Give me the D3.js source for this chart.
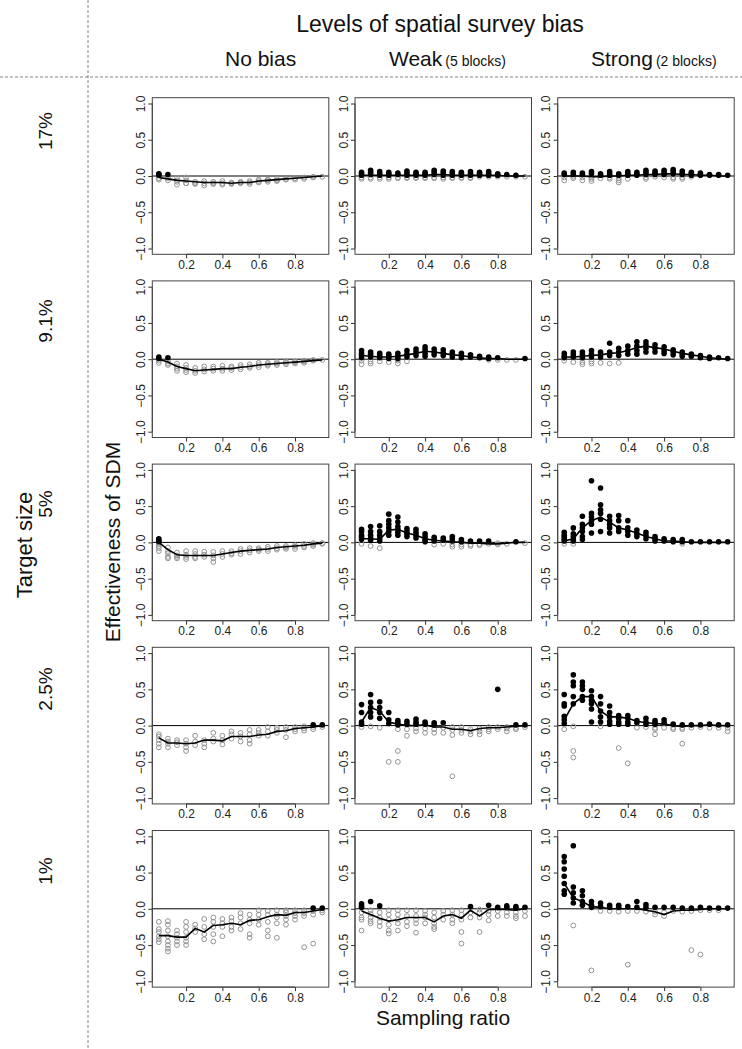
<!DOCTYPE html>
<html><head><meta charset="utf-8">
<script src="https://cdn.jsdelivr.net/npm/d3@7/dist/d3.min.js"></script>
<style>body{margin:0;background:#fff}svg{display:block}text{font-family:"Liberation Sans",Arial,sans-serif}</style>
</head><body><div id="chart"></div>
<script>
const xVals = [0.05,0.10,0.15,0.20,0.25,0.30,0.35,0.40,0.45,0.50,0.55,0.60,0.65,0.70,0.75,0.80,0.85,0.90,0.95];
const xTicks = [0.2,0.4,0.6,0.8];
const yTicks = [-1.0,-0.5,0.0,0.5,1.0];
const rowLabels = ["17%","9.1%","5%","2.5%","1%"];
const colLabels = ["No bias","Weak","Strong"];
const colNotes = ["","(5 blocks)","(2 blocks)"];
const title = "Levels of spatial survey bias";
const rowTitle = "Target size";
const yTitle = "Effectiveness of SDM";
const xTitle = "Sampling ratio";

// ---- Row 1: 17% ----
const mean_r1_c1 = [-0.02,-0.04,-0.06,-0.07,-0.08,-0.09,-0.09,-0.09,-0.10,-0.09,-0.09,-0.07,-0.06,-0.05,-0.04,-0.03,-0.02,-0.01,0.00];
const pts_r1_c1 = [[0.03,0.01,0.02,-0.03,-0.05],[0.02,-0.03,-0.06],[-0.03,-0.06,-0.08,-0.12],[-0.02,-0.06,-0.10,-0.10],[-0.08,-0.10,-0.11],[-0.07,-0.10,-0.13],[-0.08,-0.10,-0.11],[-0.07,-0.10,-0.12],[-0.09,-0.10,-0.11],[-0.08,-0.09,-0.10],[-0.07,-0.09,-0.11],[-0.05,-0.07,-0.09],[-0.05,-0.06,-0.08],[-0.04,-0.06,-0.07],[-0.04,-0.05],[-0.03,-0.05],[-0.02,-0.04],[-0.01,-0.02],[-0.01]];
const mean_r1_c2 = [0.01,0.01,0.01,0.01,0.01,0.01,0.01,0.01,0.02,0.02,0.01,0.01,0.01,0.01,0.01,0.01,0.00,0.00,0.00];
const pts_r1_c2 = [[0.05,0.03,0.01,-0.02,-0.04],[0.08,0.05,0.02,-0.02,-0.04],[0.06,0.03,0.01,-0.02,-0.04],[0.05,0.03,0.01,-0.02,-0.04],[0.04,0.02,-0.02,-0.03],[0.07,0.04,0.01,-0.02,-0.03],[0.05,0.03,0.01,-0.02,-0.03],[0.05,0.03,0.01,-0.02,-0.03],[0.08,0.05,0.02,-0.02,-0.03],[0.07,0.04,0.01,-0.02,-0.04],[0.06,0.03,0.01,-0.02,-0.03],[0.05,0.03,0.01,-0.02,-0.03],[0.06,0.03,0.01,-0.02,-0.03],[0.05,0.03,0.01,-0.01],[0.06,0.03,0.01,-0.01],[0.03,0.01,-0.01],[0.02,-0.01],[0.01,-0.01],[-0.01]];
const mean_r1_c3 = [0.00,0.00,0.00,-0.01,-0.01,0.00,0.00,0.01,0.01,0.02,0.02,0.03,0.03,0.02,0.02,0.01,0.01,0.00,0.00];
const pts_r1_c3 = [[0.04,0.02,-0.02,-0.06],[0.05,0.02,-0.01,-0.03],[0.04,0.02,-0.02,-0.06],[0.06,0.03,-0.02,-0.04,-0.07],[0.03,0.01,-0.03],[0.06,0.03,0.01,-0.02,-0.04],[0.03,0.01,-0.03,-0.06,-0.09],[0.06,0.03,0.01,-0.04],[0.05,0.02,0.01],[0.08,0.05,0.02,-0.02,-0.04],[0.07,0.04,0.02,-0.01],[0.08,0.05,0.02,-0.02],[0.09,0.06,0.03,-0.02,-0.04],[0.07,0.04,0.02,-0.02,-0.04],[0.05,0.03,0.01,-0.01],[0.04,0.02,0.01],[0.02,0.01],[0.02,0.01],[0.01]];

// ---- Row 2: 9.1% ----
const mean_r2_c1 = [0.00,-0.04,-0.10,-0.13,-0.16,-0.15,-0.14,-0.13,-0.13,-0.11,-0.10,-0.08,-0.07,-0.06,-0.05,-0.04,-0.03,-0.02,-0.01];
const pts_r2_c1 = [[0.03,0.01,-0.02,-0.05],[0.02,-0.03,-0.06,-0.08],[-0.06,-0.10,-0.13,-0.16],[-0.08,-0.12,-0.15,-0.18],[-0.12,-0.16,-0.19],[-0.10,-0.14,-0.17],[-0.10,-0.13,-0.16],[-0.09,-0.13,-0.16],[-0.10,-0.12,-0.15],[-0.08,-0.11,-0.14],[-0.07,-0.10,-0.12],[-0.05,-0.08,-0.11],[-0.05,-0.07,-0.09],[-0.04,-0.06,-0.08],[-0.03,-0.05,-0.07],[-0.03,-0.04,-0.06],[-0.02,-0.03,-0.05],[-0.01,-0.02],[-0.01]];
const mean_r2_c2 = [0.05,0.04,0.03,0.03,0.04,0.06,0.08,0.11,0.10,0.08,0.06,0.05,0.03,0.02,0.01,0.01,0.00,0.00,0.00];
const pts_r2_c2 = [[0.12,0.08,0.05,0.02,-0.02,-0.07],[0.10,0.07,0.03,-0.03,-0.06],[0.08,0.05,0.02,-0.03],[0.07,0.04,0.01,-0.04],[0.08,0.04,0.01,-0.02,-0.06],[0.12,0.07,0.03,-0.03],[0.14,0.10,0.05],[0.17,0.13,0.08,0.04],[0.14,0.10,0.06],[0.13,0.09,0.05],[0.10,0.07,0.03],[0.08,0.05,0.02],[0.06,0.03],[0.04,0.02],[0.03,0.01,-0.01],[0.02,-0.01],[-0.01],[-0.01],[0.01]];
const mean_r2_c3 = [0.03,0.03,0.04,0.05,0.06,0.08,0.09,0.12,0.16,0.18,0.16,0.14,0.11,0.08,0.06,0.04,0.02,0.01,0.00];
const pts_r2_c3 = [[0.08,0.04,0.02,-0.02],[0.10,0.06,0.03,-0.04],[0.10,0.06,0.02,-0.04,-0.07],[0.12,0.07,0.03,-0.03,-0.06],[0.10,0.06,0.03,-0.05],[0.22,0.10,0.05,-0.06],[0.15,0.10,0.05,-0.05],[0.18,0.12,0.07],[0.24,0.18,0.12,0.07],[0.24,0.20,0.15,0.10],[0.20,0.15,0.10],[0.17,0.12,0.08],[0.13,0.10,0.06],[0.10,0.07,0.04],[0.07,0.04],[0.05,0.02],[0.03,0.01],[0.02],[0.01]];

// ---- Row 3: 5% ----
const mean_r3_c1 = [0.00,-0.10,-0.17,-0.18,-0.18,-0.18,-0.18,-0.16,-0.14,-0.12,-0.11,-0.10,-0.09,-0.07,-0.06,-0.05,-0.04,-0.02,-0.01];
const pts_r3_c1 = [[0.05,0.03,0.01,-0.02,-0.05,-0.08,-0.12],[-0.07,-0.12,-0.15,-0.20,-0.22],[-0.14,-0.18,-0.20,-0.22],[-0.12,-0.17,-0.20,-0.23],[-0.12,-0.16,-0.20,-0.22],[-0.13,-0.17,-0.20],[-0.13,-0.18,-0.22,-0.27],[-0.12,-0.16,-0.20],[-0.12,-0.15,-0.17],[-0.09,-0.12,-0.16],[-0.08,-0.11,-0.14],[-0.08,-0.10,-0.12],[-0.06,-0.09,-0.12],[-0.05,-0.08,-0.10],[-0.05,-0.07,-0.09],[-0.04,-0.06,-0.09],[-0.02,-0.05,-0.07],[-0.01,-0.03,-0.05],[-0.01,-0.02]];
const mean_r3_c2 = [0.05,0.05,0.04,0.17,0.18,0.13,0.10,0.05,0.03,0.02,0.01,0.00,-0.01,-0.01,-0.02,-0.02,-0.01,0.00,0.00];
const pts_r3_c2 = [[0.18,0.15,0.10,0.07,0.04,-0.02],[0.22,0.15,0.10,0.06,0.03,-0.05],[0.23,0.15,0.10,0.05,0.02,-0.08],[0.39,0.30,0.25,0.20,0.15,0.10],[0.35,0.28,0.22,0.18,0.14,0.10],[0.19,0.15,0.12,0.08],[0.18,0.14,0.10,0.06],[0.12,0.08,0.04,0.01],[0.07,0.04,0.02,-0.03],[0.06,0.03,-0.02],[0.08,0.05,0.02,-0.03,-0.06],[0.04,0.01,-0.03,-0.06],[0.02,-0.03,-0.05],[0.02,-0.02,-0.04],[0.02,-0.02],[-0.01,-0.03],[-0.02],[0.01],[-0.01]];
const mean_r3_c3 = [0.02,0.05,0.20,0.30,0.35,0.28,0.20,0.17,0.13,0.08,0.05,0.02,0.02,0.01,0.00,0.00,0.00,0.00,0.00];
const pts_r3_c3 = [[0.14,0.10,0.07,0.04,0.02,-0.02],[0.20,0.12,0.08,0.04,0.02,-0.02],[0.36,0.25,0.20,0.15,0.08,0.04],[0.85,0.40,0.35,0.30,0.25,0.13],[0.75,0.52,0.45,0.40,0.32,0.15],[0.36,0.30,0.25,0.20,0.13],[0.37,0.30,0.20,0.15],[0.30,0.20,0.15,0.10],[0.17,0.12,0.08],[0.14,0.10,0.05],[0.08,0.05,0.02],[0.05,0.02],[0.04,0.01],[0.04,0.01,-0.02],[0.01],[0.01],[0.01],[0.01],[0.01]];

// ---- Row 4: 2.5% ----
const mean_r4_c1 = [-0.17,-0.24,-0.24,-0.25,-0.24,-0.20,-0.20,-0.21,-0.15,-0.15,-0.15,-0.13,-0.12,-0.08,-0.07,-0.04,-0.03,-0.02,0.00];
const pts_r4_c1 = [[-0.12,-0.15,-0.20,-0.25,-0.30],[-0.18,-0.22,-0.25,-0.30],[-0.20,-0.23,-0.27],[-0.20,-0.25,-0.30,-0.35],[-0.14,-0.22,-0.27],[-0.20,-0.25,-0.30],[-0.10,-0.18,-0.22],[-0.14,-0.20,-0.26],[-0.08,-0.12,-0.18],[-0.10,-0.15,-0.22],[-0.06,-0.12,-0.20,-0.25],[-0.06,-0.10,-0.14],[-0.02,-0.08,-0.14],[-0.03,-0.06,-0.10],[-0.02,-0.06,-0.16],[-0.02,-0.05,-0.08],[-0.01,-0.04,-0.07],[0.01,-0.02,-0.05],[0.01,-0.02]];
const mean_r4_c2 = [0.05,0.25,0.20,0.05,0.02,0.00,0.00,0.01,-0.02,-0.02,-0.05,-0.05,-0.07,-0.04,-0.03,-0.03,-0.02,-0.01,0.00];
const pts_r4_c2 = [[0.29,0.18,0.05,0.02,-0.02],[0.43,0.32,0.25,0.18,0.12,-0.01],[0.33,0.25,0.18,0.10,-0.03],[0.18,0.08,0.03,-0.50],[0.07,0.04,0.01,-0.05,-0.35,-0.50],[0.06,0.02,-0.05,-0.14],[0.09,0.05,0.02,-0.04,-0.08],[0.05,0.02,-0.04,-0.10],[0.04,0.01,-0.05,-0.10],[0.04,-0.03,-0.10],[-0.02,-0.06,-0.13,-0.70],[-0.02,-0.06,-0.10],[-0.05,-0.08,-0.12],[-0.04,-0.08,-0.12],[-0.02,-0.05,-0.08],[0.50,-0.02,-0.05],[-0.02,-0.04,-0.08],[0.01,-0.03,-0.05],[0.01,-0.02]];
const mean_r4_c3 = [0.08,0.30,0.40,0.40,0.20,0.12,0.12,0.10,0.06,0.04,0.03,0.02,0.00,-0.01,0.00,0.00,0.01,0.00,0.00];
const pts_r4_c3 = [[0.43,0.30,0.27,0.13,0.08,0.03,-0.05],[0.70,0.60,0.55,0.40,0.30,-0.01,-0.35,-0.44],[0.60,0.55,0.50,0.40,0.35],[0.48,0.40,0.35,0.30,0.23,0.05],[0.40,0.30,0.20,0.12,0.05,-0.01],[0.27,0.18,0.12,0.06,0.02],[0.14,0.10,0.05,0.02,-0.31],[0.14,0.10,0.05,0.02,-0.52],[0.07,0.04,-0.03],[0.10,0.05,0.02,-0.02],[0.07,0.04,0.02,-0.03,-0.05,-0.12],[0.08,0.04,-0.03],[0.02,-0.03,-0.05],[0.01,-0.03,-0.05,-0.25],[0.01,-0.03],[0.01,-0.02],[0.02,-0.03],[0.01,-0.03],[0.01,-0.03,-0.08]];

// ---- Row 5: 1% ----
const mean_r5_c1 = [-0.37,-0.37,-0.39,-0.39,-0.27,-0.32,-0.23,-0.22,-0.20,-0.22,-0.16,-0.15,-0.11,-0.08,-0.09,-0.05,-0.05,-0.03,-0.01];
const pts_r5_c1 = [[-0.18,-0.28,-0.32,-0.38,-0.42,-0.46],[-0.17,-0.22,-0.30,-0.38,-0.45,-0.50,-0.55,-0.59],[-0.30,-0.35,-0.40,-0.45,-0.50],[-0.18,-0.25,-0.32,-0.40,-0.45,-0.50],[-0.22,-0.27,-0.32],[-0.14,-0.25,-0.35,-0.42],[-0.12,-0.18,-0.25,-0.35,-0.45],[-0.14,-0.20,-0.25,-0.38],[-0.12,-0.17,-0.25,-0.30],[-0.06,-0.12,-0.20,-0.28],[-0.08,-0.15,-0.20,-0.35,-0.40],[-0.02,-0.08,-0.15,-0.22],[-0.03,-0.08,-0.18,-0.30,-0.38],[-0.02,-0.08,-0.12,-0.20,-0.40],[-0.02,-0.05,-0.10,-0.15,-0.22],[-0.02,-0.06,-0.10,-0.15],[-0.02,-0.06,-0.10,-0.53],[0.01,-0.03,-0.08,-0.48],[0.01,-0.02,-0.05]];
const mean_r5_c2 = [-0.03,-0.08,-0.13,-0.17,-0.15,-0.12,-0.12,-0.12,-0.18,-0.10,-0.08,-0.13,-0.02,-0.10,-0.01,-0.01,-0.01,-0.02,0.00];
const pts_r5_c2 = [[0.07,0.04,0.02,-0.05,-0.12,-0.15,-0.30],[0.10,-0.02,-0.07,-0.12,-0.17,-0.20],[0.04,-0.05,-0.12,-0.18,-0.24],[-0.02,-0.08,-0.15,-0.22,-0.30,-0.34],[-0.02,-0.08,-0.15,-0.20,-0.30],[-0.02,-0.10,-0.18,-0.24],[-0.02,-0.10,-0.15,-0.20,-0.33],[-0.03,-0.08,-0.12,-0.20],[-0.05,-0.12,-0.20,-0.25,-0.28],[-0.03,-0.08,-0.15],[-0.02,-0.08,-0.15,-0.20],[-0.02,-0.08,-0.15,-0.32,-0.48],[0.03,-0.05,-0.12],[-0.01,-0.05,-0.12,-0.32],[0.05,-0.03,-0.08,-0.16],[0.02,-0.03,-0.10],[0.04,0.02,-0.05,-0.10],[0.03,0.01,-0.05,-0.10,-0.13],[0.02,-0.03,-0.10]];
const mean_r5_c3 = [0.35,0.15,0.10,0.03,0.02,0.00,0.00,0.00,0.00,-0.02,-0.04,-0.08,-0.03,-0.02,-0.02,-0.01,0.00,0.00,0.00];
const pts_r5_c3 = [[0.72,0.65,0.55,0.45,0.35,0.25,0.20],[0.87,0.30,0.22,0.15,0.08,-0.23],[0.25,0.18,0.10,0.05],[0.10,0.05,0.02,-0.85],[0.08,0.03,-0.03],[0.05,0.02,-0.03],[0.05,0.02,-0.04],[0.03,-0.03,-0.77],[0.10,0.02,-0.03],[0.06,0.02,-0.04],[0.02,-0.04,-0.08],[0.02,-0.05,-0.10],[0.02,-0.03],[0.01,-0.04],[0.01,-0.03,-0.57],[0.02,-0.02,-0.63],[0.01,-0.02],[0.01,-0.02],[0.01]];

const means = [[mean_r1_c1,mean_r1_c2,mean_r1_c3],[mean_r2_c1,mean_r2_c2,mean_r2_c3],[mean_r3_c1,mean_r3_c2,mean_r3_c3],[mean_r4_c1,mean_r4_c2,mean_r4_c3],[mean_r5_c1,mean_r5_c2,mean_r5_c3]];
const points = [[pts_r1_c1,pts_r1_c2,pts_r1_c3],[pts_r2_c1,pts_r2_c2,pts_r2_c3],[pts_r3_c1,pts_r3_c2,pts_r3_c3],[pts_r4_c1,pts_r4_c2,pts_r4_c3],[pts_r5_c1,pts_r5_c2,pts_r5_c3]];

// ---- layout ----
const W = 742, H = 1049;
const colLeft0 = 152.3, colStep = 202.7, panelW = 176.5;
const rowZero0 = 176, rowStep = 183.2, halfH = 78.3;
const font = '"Liberation Sans", Arial, sans-serif';

const svg = d3.select("#chart").append("svg").attr("width", W).attr("height", H);
svg.append("rect").attr("width", W).attr("height", H).attr("fill", "#fff");

// dashed separators
svg.append("line").attr("x1", 88).attr("x2", 88).attr("y1", 0).attr("y2", H)
  .attr("stroke", "#666").attr("stroke-width", 0.8).attr("stroke-dasharray", "3,2");
svg.append("line").attr("x1", 0).attr("x2", W).attr("y1", 77).attr("y2", 77)
  .attr("stroke", "#666").attr("stroke-width", 0.8).attr("stroke-dasharray", "3,2");

// titles
svg.append("text").attr("x", 440).attr("y", 32).attr("text-anchor", "middle")
  .attr("font-size", 23).attr("fill", "#111").text(title);
const colTextX = [225, 389, 591];
colLabels.forEach((lab, i) => {
  const t = svg.append("text").attr("x", colTextX[i]).attr("y", 66).attr("fill", "#111");
  t.append("tspan").attr("font-size", 21).text(lab);
  if (colNotes[i]) t.append("tspan").attr("font-size", 14).attr("dx", 3).text(colNotes[i]);
});

const rowLabelY = [131, 321, 504, 689, 871];
rowLabels.forEach((lab, i) => {
  svg.append("text").attr("transform", `translate(45,${rowLabelY[i]}) rotate(-90)`)
    .attr("text-anchor", "middle").attr("dominant-baseline", "central")
    .attr("font-size", 19).attr("fill", "#111").text(lab);
});
svg.append("text").attr("transform", `translate(24,545) rotate(-90)`)
  .attr("text-anchor", "middle").attr("dominant-baseline", "central")
  .attr("font-size", 22).attr("fill", "#111").text(rowTitle);
svg.append("text").attr("transform", `translate(112,542) rotate(-90)`)
  .attr("text-anchor", "middle").attr("dominant-baseline", "central")
  .attr("font-size", 21).attr("fill", "#111").text(yTitle);
svg.append("text").attr("x", 443).attr("y", 1025).attr("text-anchor", "middle")
  .attr("font-size", 21).attr("fill", "#111").text(xTitle);

// panels
for (let r = 0; r < 5; r++) {
  for (let c = 0; c < 3; c++) {
    const left = colLeft0 + c * colStep;
    const y0 = rowZero0 + r * rowStep;
    const top = y0 - halfH, bottom = y0 + halfH;
    const x = d3.scaleLinear().domain([0.014, 0.986]).range([left, left + panelW]);
    const y = d3.scaleLinear().domain([-1.08, 1.08]).range([bottom, top]);
    const g = svg.append("g");

    // axes
    const xa = g.append("g").attr("transform", `translate(0,${bottom})`)
      .call(d3.axisBottom(x).tickValues(xTicks).tickSize(4).tickPadding(2).tickFormat(d3.format(".1f")));
    xa.select(".domain").attr("d", `M${x(0.2)},0H${x(0.8)}`).attr("stroke", "#333");
    xa.selectAll(".tick line").attr("stroke", "#333");
    xa.selectAll("text").attr("font-size", 12).attr("font-family", font).attr("fill", "#222");

    const ya = g.append("g").attr("transform", `translate(${left},0)`)
      .call(d3.axisLeft(y).tickValues(yTicks).tickSize(4).tickFormat(d3.format(".1f")));
    ya.select(".domain").attr("d", `M0,${y(-1)}V${y(1)}`).attr("stroke", "#333");
    ya.selectAll(".tick line").attr("stroke", "#333");
    ya.selectAll(".tick text")
      .attr("font-size", 12).attr("font-family", font).attr("fill", "#222")
      .attr("x", 0).attr("dy", null).attr("text-anchor", "middle")
      .attr("dominant-baseline", "central")
      .attr("transform", "translate(-11.5,0) rotate(-90)")
      .text(d => d3.format(".1f")(d).replace("-", "\u2212"));

    // zero reference line
    g.append("line").attr("x1", left).attr("x2", left + panelW)
      .attr("y1", y(0)).attr("y2", y(0)).attr("stroke", "#000").attr("stroke-width", 1);

    // points
    const flat = [];
    points[r][c].forEach((vals, i) => vals.forEach(v => flat.push({x: xVals[i], v})));
    g.append("g").selectAll("circle").data(flat.filter(d => d.v <= 0)).join("circle")
      .attr("cx", d => x(d.x)).attr("cy", d => y(d.v)).attr("r", 2.4)
      .attr("fill", "none").attr("stroke", "#939393").attr("stroke-width", 1);
    g.append("g").selectAll("circle").data(flat.filter(d => d.v > 0)).join("circle")
      .attr("cx", d => x(d.x)).attr("cy", d => y(d.v)).attr("r", 2.8)
      .attr("fill", "#000");

    // mean line
    const line = d3.line().x((d, i) => x(xVals[i])).y(d => y(d));
    g.append("path").datum(means[r][c]).attr("d", line)
      .attr("fill", "none").attr("stroke", "#000").attr("stroke-width", 1.6);

    // box
    g.append("rect").attr("x", left).attr("y", top).attr("width", panelW).attr("height", bottom - top)
      .attr("fill", "none").attr("stroke", "#444").attr("stroke-width", 1);
  }
}
</script></body></html>
